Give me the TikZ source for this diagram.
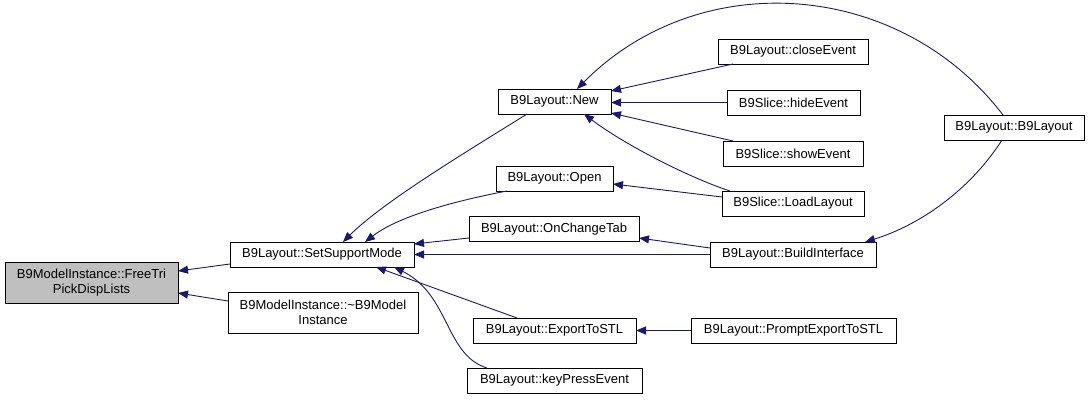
\documentclass[tikz,border=0pt]{standalone}
\usepackage{fontspec}
\setmainfont{Liberation Sans}
\usetikzlibrary{arrows.meta,calc}
\definecolor{edgeblue}{RGB}{25,25,112}
\definecolor{nodegray}{RGB}{191,191,191}
\begin{document}
\begin{tikzpicture}[x=1pt,y=-1pt,
  fn/.style={draw=black,line width=0.9pt,fill=white,inner sep=0pt,align=center,
    font=\fontsize{13}{15}\selectfont,minimum height=25pt},
  call/.style={draw=edgeblue,line width=0.9pt,
    -{Triangle[length=10pt,width=8pt]}}]
\useasboundingbox (0,0) rectangle (1091,400);
\node[fn,fill=nodegray,minimum width=173pt,minimum height=41pt] (free) at (91.5,282.5) {B9ModelInstance::FreeTri\\PickDispLists};
\node[fn,minimum width=184pt] (ssm) at (322,254.5) {B9Layout::SetSupportMode};
\node[fn,minimum width=190pt,minimum height=41pt] (dtor) at (323,312.5) {B9ModelInstance::\textasciitilde B9Model\\Instance};
\node[fn,minimum width=113pt] (new) at (554.5,101.5) {B9Layout::New};
\node[fn,minimum width=117pt] (open) at (554.5,178.5) {B9Layout::Open};
\node[fn,minimum width=170pt] (oct) at (554,229) {B9Layout::OnChangeTab};
\node[fn,minimum width=163pt] (exp) at (554.5,330.5) {B9Layout::ExportToSTL};
\node[fn,minimum width=175pt] (key) at (554.5,380.5) {B9Layout::keyPressEvent};
\node[fn,minimum width=150pt] (close) at (793,51.5) {B9Layout::closeEvent};
\node[fn,minimum width=133pt] (hide) at (793.5,102.5) {B9Slice::hideEvent};
\node[fn,minimum width=140pt] (show) at (793,153.5) {B9Slice::showEvent};
\node[fn,minimum width=142pt] (load) at (793,203.5) {B9Slice::LoadLayout};
\node[fn,minimum width=166pt] (build) at (793,254.5) {B9Layout::BuildInterface};
\node[fn,minimum width=205pt] (prompt) at (793.5,330.5) {B9Layout::PromptExportToSTL};
\node[fn,minimum width=140pt] (b9l) at (1014,127.5) {B9Layout::B9Layout};
% edges
\draw[call] ($(ssm)+(-92,9.5)$) -- ($(free)+(86.5,-11.5)$);
\draw[call] ($(dtor)+(-95,-11.5)$) -- ($(free)+(86.5,10.5)$);
\draw[call] ($(new)+(-27.5,12.5)$) .. controls (466,152) and (383,202) .. ($(ssm)+(21,-12.5)$);
\draw[call] ($(open)+(-47.5,12.5)$) .. controls (460,200) and (400,215) .. ($(ssm)+(43,-12.5)$);
\draw[call] ($(oct)+(-85,9)$) -- ($(ssm)+(92,-10.5)$);
\draw[call] ($(build)+(-83,0)$) -- ($(ssm)+(92,0)$);
\draw[call] ($(exp)+(-37.5,-12.5)$) -- ($(ssm)+(54,12.5)$);
\draw[call] ($(key)+(-67.5,-12.5)$) .. controls (445,355) and (450,295) .. ($(ssm)+(72,12.5)$);
\draw[call] ($(close)+(-60,12.5)$) -- ($(new)+(56.5,-10.5)$);
\draw[call] ($(hide)+(-66.5,0)$) -- ($(new)+(56.5,1)$);
\draw[call] ($(show)+(-60,-12.5)$) -- ($(new)+(56.5,11.5)$);
\draw[call] ($(load)+(-63,-12.5)$) .. controls (690,178) and (625,145) .. ($(new)+(29.5,12.5)$);
\draw[call] ($(b9l)+(-11,-12.5)$) .. controls (900,-20) and (700,-35) .. ($(new)+(22.5,-12.5)$);
\draw[call] ($(load)+(-71,-6.5)$) -- ($(open)+(58.5,5.5)$);
\draw[call] ($(build)+(-83,-6.5)$) -- ($(oct)+(85,9)$);
\draw[call] ($(b9l)+(-12,12.5)$) .. controls (970,190) and (920,225) .. ($(build)+(72,-12.5)$);
\draw[call] ($(prompt)+(-102.5,0)$) -- ($(exp)+(81.5,0)$);
\end{tikzpicture}
\end{document}
